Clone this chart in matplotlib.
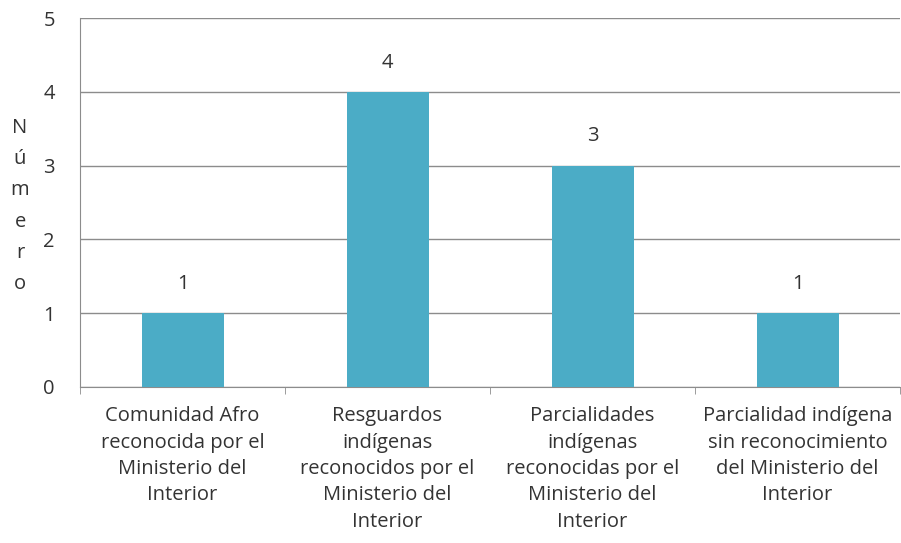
import numpy as np
import matplotlib
matplotlib.use("Agg")
import matplotlib.pyplot as plt
from matplotlib.ticker import FixedLocator

categories = [
    "Comunidad Afro\nreconocida por el\nMinisterio del\nInterior",
    "Resguardos\nindígenas\nreconocidos por el\nMinisterio del\nInterior",
    "Parcialidades\nindígenas\nreconocidas por el\nMinisterio del\nInterior",
    "Parcialidad indígena\nsin reconocimiento\ndel Ministerio del\nInterior",
]
values = [1, 4, 3, 1]
y_ticks = [0, 1, 2, 3, 4, 5]
y_label = "Número"

plt.rcParams["font.family"] = ["Open Sans", "DejaVu Sans"]
text_colour = "#333333"
grid_colour = "#8c8c8c"
fs = 14.5

fig = plt.figure(figsize=(9.01, 5.43), dpi=100, facecolor="white")
ax = fig.add_axes([80 / 901, 1 - 387 / 543, 820 / 901, 369 / 543])

x = np.arange(len(values))
bars = ax.bar(x, values, width=0.4, color="#4bacc6", zorder=3)

ax.set_xlim(-0.5, len(values) - 0.5)
ax.set_ylim(0, 5)
ax.set_yticks(y_ticks)
ax.yaxis.grid(True, color=grid_colour, linewidth=1.0, zorder=0)

for spine in ["top", "right"]:
    ax.spines[spine].set_visible(False)
ax.spines["left"].set_color(grid_colour)
ax.spines["bottom"].set_color(grid_colour)

ax.set_xticks(x)
ax.set_xticklabels(categories, fontsize=fs, color=text_colour, linespacing=1.42)
ax.xaxis.set_minor_locator(FixedLocator(np.arange(-0.5, len(values), 1.0)))
ax.tick_params(axis="x", which="major", length=0, pad=14)
ax.tick_params(axis="x", which="minor", length=5, color=grid_colour)
ax.tick_params(axis="y", length=0, pad=18, labelsize=fs, labelcolor=text_colour)

for b, v in zip(bars, values):
    ax.annotate(str(v), (b.get_x() + b.get_width() / 2, v),
                xytext=(0, 21), textcoords="offset points",
                ha="center", va="center", fontsize=fs, color=text_colour)

fig.text(20 / 901, 1 - 206 / 543, "\n".join(y_label), ha="center", va="center",
         fontsize=fs, color=text_colour, linespacing=1.75)

fig.savefig("out.png", dpi=100, facecolor="white")
